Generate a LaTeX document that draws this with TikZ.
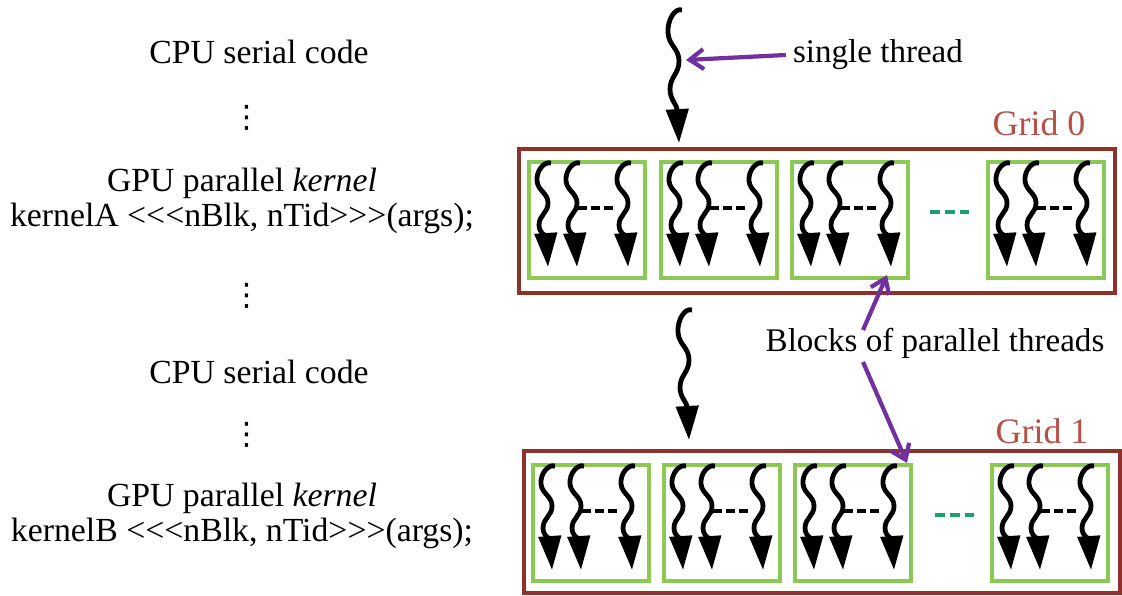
\documentclass[tikz,border=0pt]{standalone}
\usepackage{fontspec}
\setmainfont{Liberation Serif}
\newfontfamily\dotsfont{DejaVu Sans}
\usetikzlibrary{arrows.meta,positioning,calc}

\definecolor{gridbrown}{RGB}{140,50,42}
\definecolor{gridlabel}{RGB}{180,80,70}
\definecolor{blockgreen}{RGB}{140,200,85}
\definecolor{dotgreen}{RGB}{30,160,110}
\definecolor{arrowpurple}{RGB}{112,48,160}

\begin{document}
\begin{tikzpicture}[x=0.025cm,y=-0.025cm,
    code text/.style={font=\fontsize{24}{25}\selectfont,align=center,inner sep=0pt},
    dots text/.style={font=\dotsfont\fontsize{22}{22}\selectfont,inner sep=0pt},
    label text/.style={font=\fontsize{23.5}{25}\selectfont,inner sep=5pt},
    grid label/.style={font=\fontsize{25.5}{27}\selectfont,text=gridlabel,inner sep=0pt},
    grid box/.style={draw=gridbrown,line width=2.8pt,minimum width=14.9cm},
    block/.style={draw=blockgreen,line width=2.8pt,minimum size=2.9cm},
    green dash/.style={dotgreen,line width=3.5pt,dash pattern=on 7pt off 3.5pt},
    pointer/.style={arrowpurple,line width=3pt,-{Straight Barb[length=0.35cm,width=0.5cm]}},
    thread/.pic={
      \draw[line width=3.4pt,-{Triangle[width=0.55cm,length=0.85cm]}]
        (7,0) .. controls (0,-2) and (-8,8) .. (-7,18)
        .. controls (-6,28) and (4,30) .. (4,40)
        .. controls (4,50) and (-5,52) .. (-5,62)
        .. controls (-5,70) and (2,74) .. (4,104);
    },
    thread set/.pic={
      \pic at (17,3) {thread};
      \pic at (46,3) {thread};
      \pic at (97,3) {thread};
      \draw[line width=2.8pt,dash pattern=on 6.4pt off 2.8pt] (51,48) -- (88,48);
    }]

  \useasboundingbox (0,0) rectangle (1122,596);

  % host code
  \node[code text] (cpu0) at (259,52) {CPU serial code};
  \node[dots text] (dots0) at (247,118) {⋮};
  \node[code text] (kerA) at (242,201) {GPU parallel \textit{kernel}\\kernelA <{}<{}<nBlk, nTid>{}>{}>(args);};
  \node[dots text] (dots1) at (247,296) {⋮};
  \node[code text] (cpu1) at (259,372) {CPU serial code};
  \node[dots text] (dots2) at (247,435) {⋮};
  \node[code text] (kerB) at (242,516) {GPU parallel \textit{kernel}\\kernelB <{}<{}<nBlk, nTid>{}>{}>(args);};

  % grids
  \node[grid box,minimum height=3.6cm] (grid0) at (817,221) {};
  \node[grid box,minimum height=3.55cm] (grid1) at (822,522) {};
  \node[grid label] (glab0) at (1039,123) {Grid 0};
  \node[grid label] (glab1) at (1042,431) {Grid 1};

  % blocks of threads
  \foreach \x [count=\i] in {587,719,850,1046}{
    \node[block] (gz\i) at (\x,220) {};
    \pic at (gz\i.north west) {thread set};
  }
  \foreach \x [count=\i] in {591,722,853,1050}{
    \node[block] (go\i) at (\x,523) {};
    \pic at (go\i.north west) {thread set};
  }
  \draw[green dash] ($(gz3.east)+(20,-8)$) -- ($(gz4.west)+(-16,-8)$);
  \draw[green dash] ($(go3.east)+(22,-8)$) -- ($(go4.west)+(-16,-8)$);

  % serial threads
  \pic[yscale=1.28] at (675,10) {thread};
  \pic[yscale=1.25] at (685,310) {thread};

  % labels
  \node[label text] (single) at (878,55) {single thread};
  \node[label text] (blocks) at (935,343) {Blocks of parallel threads};
  \coordinate (hit0) at (686,60);
  \coordinate (up0) at (863,330);
  \coordinate (dn0) at (863,362);
  \coordinate (tgt0) at (887,275);
  \coordinate (tgt1) at (907,463);
  \draw[pointer] (single.west) -- (hit0);
  \draw[pointer] (up0) -- (tgt0);
  \draw[pointer] (dn0) -- (tgt1);
\end{tikzpicture}
\end{document}
